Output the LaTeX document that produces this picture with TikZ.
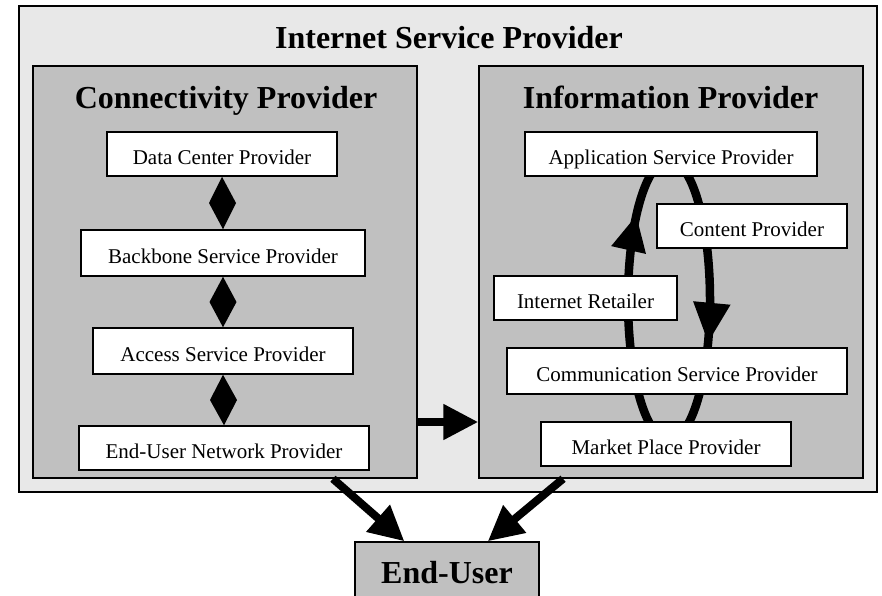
\documentclass[tikz,border=0pt]{standalone}
\usepackage{fontspec}
\setmainfont{Liberation Serif}
\usetikzlibrary{arrows.meta,calc,decorations.markings}
\definecolor{ispgray}{HTML}{E8E8E8}
\definecolor{boxgray}{HTML}{C0C0C0}
\tikzset{
  container/.style={draw=black, line width=1.5pt, inner sep=0pt},
  title/.style={font=\fontsize{32}{38}\selectfont\bfseries, inner sep=0pt},
  role/.style={draw=black, fill=white, line width=1.5pt, inner sep=0pt,
    font=\fontsize{21}{25}\selectfont, text height=20pt, text depth=0pt},
  flow/.style={line width=8pt, -{Triangle[length=35pt,width=34pt]}},
  cycleflow/.style={line width=8.5pt, postaction={decorate},
    decoration={markings,
      mark=at position 0.07 with {\arrow{Triangle[length=40pt,width=35pt]}},
      mark=at position 0.64 with {\arrow{Triangle[length=36pt,width=33pt]}}}},
}
% filled diamond joining the bottom of one box to the top of the next
\newcommand\diamondlink[2]{%
  \fill (#1.south)
    -- ($(#1.south)!0.5!(#2.north)+(13.5,0)$)
    -- (#2.north)
    -- ($(#1.south)!0.5!(#2.north)-(13.5,0)$) -- cycle;}
\begin{document}
\begin{tikzpicture}[x=1pt, y=-1pt]
  \clip (0,0) rectangle (882,595);

  % containers
  \node[container, fill=ispgray, minimum width=858pt, minimum height=486pt] (isp) at (448,249) {};
  \node[container, fill=boxgray, minimum width=384pt, minimum height=412pt] (conn) at (225,272) {};
  \node[container, fill=boxgray, minimum width=384pt, minimum height=412pt] (info) at (671,272) {};

  \node[title, anchor=base] (ispt) at (449,48) {Internet Service Provider};
  \node[title, anchor=base] (connt) at (226,108) {Connectivity Provider};
  \node[title, anchor=base] (infot) at (670.5,108) {Information Provider};

  % value loop of the information providers
  \draw[cycleflow] (669,300) ellipse [x radius=41, y radius=140];

  % connectivity chain
  \node[role, minimum width=230pt, minimum height=44pt] (dc) at (222,154) {Data Center Provider};
  \node[role, minimum width=284pt, minimum height=46pt] (bb) at (223,253) {Backbone Service Provider};
  \node[role, minimum width=260pt, minimum height=46pt] (acc) at (223,351) {Access Service Provider};
  \node[role, minimum width=290pt, minimum height=44pt] (eun) at (224,448) {End-User Network Provider};
  \diamondlink{dc}{bb}
  \diamondlink{bb}{acc}
  \diamondlink{acc}{eun}

  % information roles
  \node[role, minimum width=292pt, minimum height=44pt] (asp) at (671,154) {Application Service Provider};
  \node[role, minimum width=190pt, minimum height=44pt] (cp) at (752,226) {Content Provider};
  \node[role, minimum width=183pt, minimum height=44pt] (ir) at (585.5,298) {Internet Retailer};
  \node[role, minimum width=340pt, minimum height=46pt] (csp) at (677,371) {Communication Service Provider};
  \node[role, minimum width=250pt, minimum height=44pt] (mpp) at (666,444) {Market Place Provider};

  % end user
  \node[container, fill=boxgray, minimum width=184pt, minimum height=60pt,
        font=\fontsize{32}{38}\selectfont\bfseries, text height=22pt, text depth=0pt] (user) at (447,572) {End-User};

  % flows
  \coordinate (hy) at (0,422);
  \draw[flow] (conn.east |- hy) -- (info.west |- hy);
  \draw[flow] ($(conn.south west)!0.78!(conn.south east)$) -- ($(user.north west)!0.27!(user.north east)$);
  \draw[flow] ($(info.south west)!0.22!(info.south east)$) -- ($(user.north west)!0.72!(user.north east)$);
\end{tikzpicture}
\end{document}
